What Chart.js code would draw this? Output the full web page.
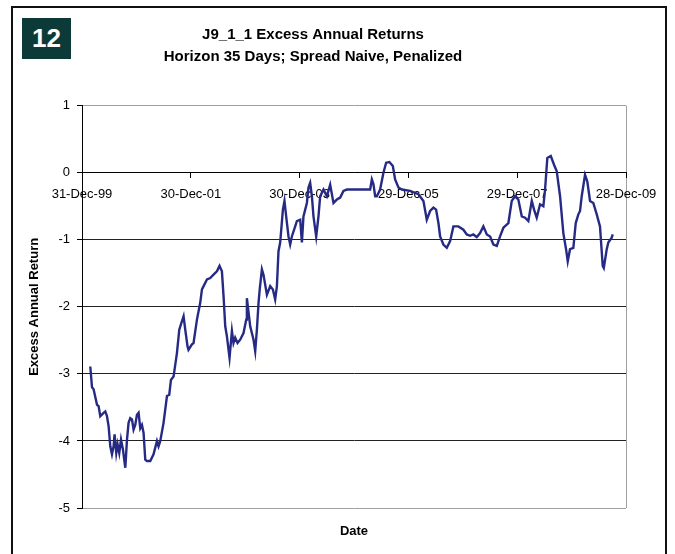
<!DOCTYPE html>
<html>
<head>
<meta charset="utf-8">
<script src="https://cdn.jsdelivr.net/npm/chart.js@4/dist/chart.umd.min.js"></script>
<style>
  html, body { margin: 0; padding: 0; background: #fff; }
  #wrap { position: relative; width: 675px; height: 554px; overflow: hidden; }
  #frame { position: absolute; left: 11px; top: 6px; width: 652px; height: 600px; border: 2px solid #111; pointer-events: none; }
  #badge { position: absolute; left: 22px; top: 18px; width: 49px; height: 41px; background: #0c3a38; color: #fff;
           font: bold 26px "Liberation Sans", Arial, sans-serif; line-height: 41px; text-align: center; }
  canvas { position: absolute; left: 0; top: 0; }
</style>
</head>
<body>
<div id="wrap">
  <canvas id="chart" width="675" height="554"></canvas>
  <div id="frame"></div>
  <div id="badge">12</div>
</div>
<script>
// DADOS (date as decimal year, 2000.0 = 31-Dec-99)

const titleLines = ['J9_1_1 Excess Annual Returns', 'Horizon 35 Days; Spread Naive, Penalized'];
const tickLabels = ['31-Dec-99', '30-Dec-01', '30-Dec-03', '29-Dec-05', '29-Dec-07', '28-Dec-09'];

const dates = [
  2000.152, 2000.184, 2000.213, 2000.276, 2000.305, 2000.336, 2000.397, 2000.428, 2000.459, 2000.489,
  2000.520, 2000.551, 2000.581, 2000.599, 2000.630, 2000.654, 2000.685, 2000.717, 2000.753, 2000.796,
  2000.827, 2000.856, 2000.887, 2000.919, 2000.948, 2000.979, 2001.010, 2001.040, 2001.071, 2001.102,
  2001.132, 2001.163, 2001.194, 2001.255, 2001.315, 2001.378, 2001.407, 2001.439, 2001.499, 2001.562,
  2001.604, 2001.635, 2001.683, 2001.745, 2001.788, 2001.819, 2001.867, 2001.898, 2001.940, 2001.958,
  2002.021, 2002.050, 2002.113, 2002.173, 2002.205, 2002.297, 2002.357, 2002.418, 2002.480, 2002.528,
  2002.572, 2002.602, 2002.633, 2002.664, 2002.712, 2002.756, 2002.785, 2002.816, 2002.859, 2002.908,
  2002.969, 2003.019, 2003.031, 2003.092, 2003.153, 2003.184, 2003.215, 2003.245, 2003.267, 2003.307,
  2003.336, 2003.399, 2003.460, 2003.509, 2003.551, 2003.583, 2003.612, 2003.643, 2003.693, 2003.722,
  2003.753, 2003.796, 2003.827, 2003.858, 2003.919, 2003.950, 2004.011, 2004.042, 2004.071, 2004.134,
  2004.163, 2004.194, 2004.226, 2004.255, 2004.305, 2004.347, 2004.378, 2004.439, 2004.501, 2004.562,
  2004.623, 2004.685, 2004.746, 2004.806, 2004.869, 2005.021, 2005.150, 2005.297, 2005.328, 2005.357,
  2005.389, 2005.420, 2005.480, 2005.541, 2005.591, 2005.651, 2005.714, 2005.756, 2005.817, 2005.879,
  2006.032, 2006.184, 2006.276, 2006.338, 2006.399, 2006.460, 2006.509, 2006.552, 2006.583, 2006.643,
  2006.706, 2006.767, 2006.827, 2006.919, 2007.011, 2007.073, 2007.134, 2007.195, 2007.257, 2007.318,
  2007.378, 2007.441, 2007.502, 2007.563, 2007.625, 2007.685, 2007.746, 2007.838, 2007.900, 2007.961,
  2008.021, 2008.084, 2008.144, 2008.205, 2008.268, 2008.310, 2008.359, 2008.420, 2008.481, 2008.512,
  2008.554, 2008.617, 2008.677, 2008.727, 2008.788, 2008.848, 2008.898, 2008.929, 2008.971, 2009.032,
  2009.076, 2009.124, 2009.155, 2009.186, 2009.247, 2009.289, 2009.339, 2009.399, 2009.462, 2009.522,
  2009.572, 2009.592, 2009.646, 2009.675, 2009.737, 2009.756
];

const excessReturn = [
  -2.89, -3.20, -3.23, -3.46, -3.48, -3.63, -3.58, -3.56, -3.63, -3.78,
  -4.08, -4.20, -4.08, -3.90, -4.18, -4.05, -4.18, -3.98, -4.13, -4.40,
  -3.98, -3.73, -3.66, -3.68, -3.83, -3.76, -3.61, -3.58, -3.81, -3.76,
  -3.88, -4.28, -4.30, -4.30, -4.20, -4.00, -4.08, -4.00, -3.73, -3.33,
  -3.31, -3.09, -3.04, -2.69, -2.34, -2.26, -2.14, -2.34, -2.59, -2.64,
  -2.56, -2.54, -2.19, -1.94, -1.74, -1.59, -1.57, -1.52, -1.47, -1.39,
  -1.47, -1.84, -2.29, -2.44, -2.76, -2.36, -2.54, -2.46, -2.54, -2.49,
  -2.39, -2.19, -1.87, -2.29, -2.49, -2.66, -2.34, -1.94, -1.74, -1.44,
  -1.52, -1.82, -1.69, -1.74, -1.89, -1.69, -1.17, -1.04, -0.55, -0.42,
  -0.65, -0.95, -1.07, -0.95, -0.80, -0.72, -0.70, -1.04, -0.65, -0.45,
  -0.22, -0.15, -0.35, -0.65, -0.95, -0.65, -0.35, -0.25, -0.35, -0.18,
  -0.45, -0.40, -0.37, -0.27, -0.25, -0.25, -0.25, -0.25, -0.10, -0.17,
  -0.35, -0.35, -0.25, 0.00, 0.15, 0.16, 0.10, -0.10, -0.22, -0.25,
  -0.27, -0.32, -0.42, -0.70, -0.57, -0.52, -0.55, -0.75, -0.95, -1.07,
  -1.12, -1.02, -0.80, -0.80, -0.85, -0.92, -0.94, -0.92, -0.96, -0.90,
  -0.80, -0.92, -0.95, -1.07, -1.09, -0.95, -0.82, -0.75, -0.42, -0.35,
  -0.40, -0.65, -0.67, -0.72, -0.42, -0.55, -0.67, -0.47, -0.50, -0.25,
  0.22, 0.25, 0.12, 0.02, -0.35, -0.90, -1.14, -1.32, -1.14, -1.12,
  -0.75, -0.62, -0.57, -0.35, -0.03, -0.13, -0.42, -0.45, -0.62, -0.80,
  -1.39, -1.42, -1.14, -1.04, -0.97, -0.92
];

// GRÁFICO

Chart.defaults.font.family = '"Liberation Sans", Arial, sans-serif';
Chart.defaults.color = '#000';

const ctx = document.getElementById('chart');

new Chart(ctx, {

    type: 'line',

    data: {
        datasets: [{
            label: 'Excess Annual Return',
            data: dates.map((d, i) => ({ x: d, y: excessReturn[i] })),
            borderColor: '#262a85',
            borderWidth: 2.4,
            pointRadius: 0,
            tension: 0,
            fill: false,
            xAxisID: 'x',
            yAxisID: 'y'
        }]
    },

    options: {
        responsive: false,
        animation: false,
        layout: { padding: { left: 0, right: 49, top: 0, bottom: 0 } },
        plugins: {
            legend: { display: false },
            tooltip: { enabled: false },
            title: {
                display: true,
                text: titleLines,
                color: '#000',
                font: { size: 15, weight: 'bold', lineHeight: 1.45 },
                padding: { top: 24, bottom: 38.2 }
            }
        },
        scales: {
            x: {
                type: 'linear',
                position: { y: 0 },
                min: 2000,
                max: 2010,
                border: { display: true, color: '#000', width: 1 },
                grid: {
                    drawOnChartArea: true,
                    drawTicks: true,
                    tickLength: 5,
                    tickColor: '#000',
                    color: c => (c.tick && c.tick.value === 2010) ? '#a0a0a0' : 'rgba(0,0,0,0)'
                },
                ticks: {
                    stepSize: 2,
                    autoSkip: false,
                    maxRotation: 0,
                    padding: 9,
                    font: { size: 13 },
                    callback: v => tickLabels[Math.round((v - 2000) / 2)]
                }
            },
            x2: {
                type: 'linear',
                position: 'bottom',
                border: { display: false },
                grid: { display: false, drawTicks: false },
                ticks: { display: false },
                title: {
                    display: true,
                    text: 'Date',
                    font: { size: 13, weight: 'bold', lineHeight: 1.2 },
                    padding: 15.2
                }
            },
            y: {
                min: -5,
                max: 1,
                border: { display: true, color: '#000', width: 1 },
                grid: {
                    color: c => (c.tick && (c.tick.value === 1 || c.tick.value === -5)) ? '#a0a0a0' : '#222',
                    tickColor: '#000',
                    tickLength: 5,
                    lineWidth: 1
                },
                ticks: { stepSize: 1, padding: 7, font: { size: 13 } },
                title: {
                    display: true,
                    text: 'Excess Annual Return',
                    font: { size: 13, weight: 'bold', lineHeight: 1.2 },
                    padding: 27
                },
                afterFit: s => { s.width = 82; }
            }
        }
    }

});
</script>
</body>
</html>
